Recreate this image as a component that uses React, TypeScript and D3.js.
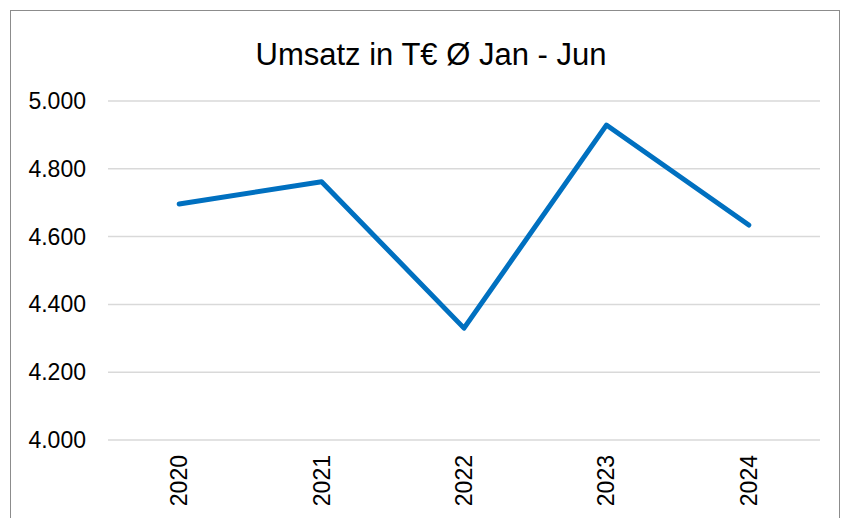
import { useEffect, useRef } from "react";
import * as d3 from "d3";

const years = ["2020", "2021", "2022", "2023", "2024"];
const revenue = [4696, 4762, 4330, 4929, 4634];
const yTicks = [4000, 4200, 4400, 4600, 4800, 5000];
const chartTitle = "Umsatz in T€ Ø Jan - Jun";

export default function App() {
  const svgRef = useRef<SVGSVGElement>(null);
  const width = 841;
  const height = 518;

  useEffect(() => {
    if (!svgRef.current) return;
    const svg = d3.select(svgRef.current);
    svg.selectAll("*").remove();

    const font = "Liberation Sans, Arial, sans-serif";
    const plot = { left: 108, right: 820, top: 101, bottom: 440 };

    // outer frame
    svg.append("rect")
      .attr("x", 10.5)
      .attr("y", 10.5)
      .attr("width", 829)
      .attr("height", 530)
      .attr("fill", "#fff")
      .attr("stroke", "#8c8c8c")
      .attr("stroke-width", 1);

    const x = d3.scaleBand<string>()
      .domain(years)
      .range([plot.left, plot.right]);

    const y = d3.scaleLinear()
      .domain([4000, 5000])
      .range([plot.bottom, plot.top]);

    // gridlines
    svg.append("g")
      .selectAll("line")
      .data(yTicks)
      .join("line")
      .attr("x1", plot.left)
      .attr("x2", plot.right)
      .attr("y1", d => y(d))
      .attr("y2", d => y(d))
      .attr("stroke", "#d9d9d9")
      .attr("stroke-width", 1.5);

    // y tick labels
    const fmt = (d: number) => d3.format(",")(d).replace(",", ".");
    svg.append("g")
      .selectAll("text")
      .data(yTicks)
      .join("text")
      .attr("x", 86)
      .attr("y", d => y(d))
      .attr("dy", "0.35em")
      .attr("text-anchor", "end")
      .attr("font-family", font)
      .attr("font-size", 23)
      .attr("fill", "#000")
      .text(d => fmt(d));

    // x labels, rotated
    svg.append("g")
      .selectAll("text")
      .data(years)
      .join("text")
      .attr("transform", d => `translate(${x(d)! + x.bandwidth() / 2},455) rotate(-90)`)
      .attr("dy", "0.35em")
      .attr("text-anchor", "end")
      .attr("font-family", font)
      .attr("font-size", 23)
      .attr("fill", "#000")
      .text(d => d);

    // title
    svg.append("text")
      .attr("x", 431)
      .attr("y", 65)
      .attr("text-anchor", "middle")
      .attr("font-family", font)
      .attr("font-size", 31)
      .attr("fill", "#000")
      .text(chartTitle);

    const line = d3.line<number>()
      .x((_, i) => x(years[i])! + x.bandwidth() / 2)
      .y(d => y(d));

    svg.append("path")
      .datum(revenue)
      .attr("fill", "none")
      .attr("stroke", "#0070c0")
      .attr("stroke-width", 5)
      .attr("stroke-linejoin", "round")
      .attr("stroke-linecap", "round")
      .attr("d", line);
  }, []);

  return (
    <svg
      ref={svgRef}
      width={width}
      height={height}
      style={{ position: "absolute", left: 0, top: 0 }}
    />
  );
}
